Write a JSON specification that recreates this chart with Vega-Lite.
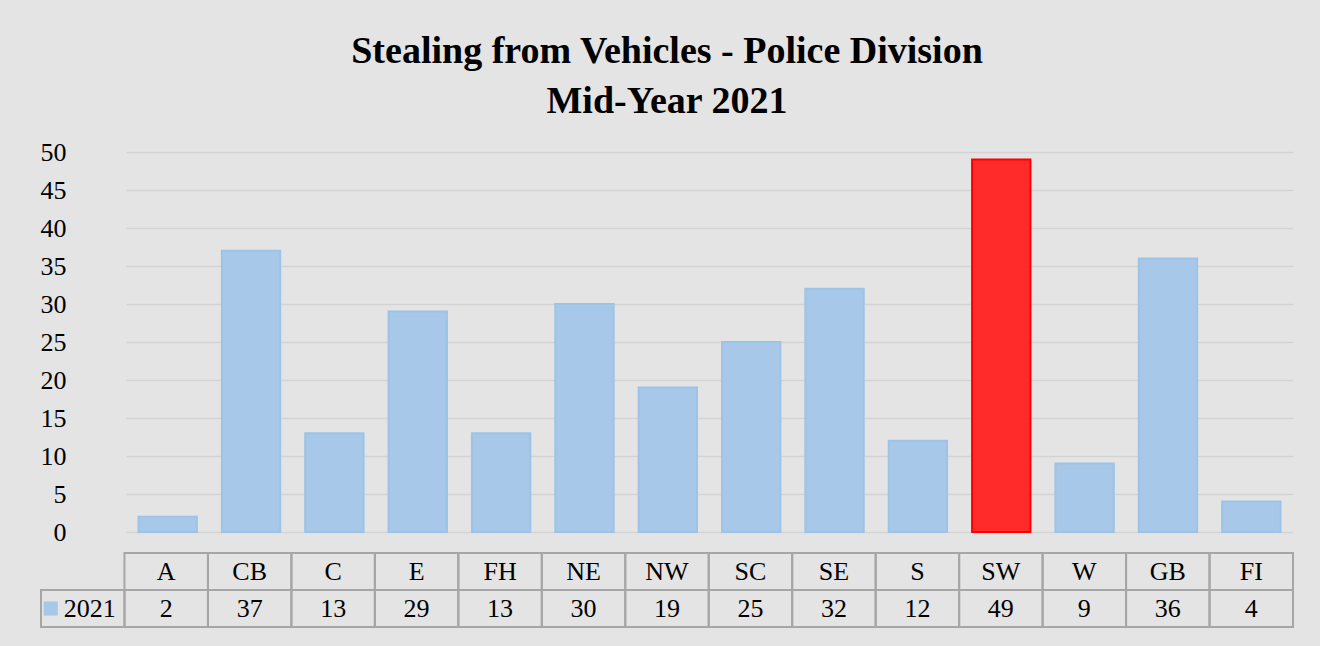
{
  "$schema": "https://vega.github.io/schema/vega-lite/v6.json",
  "background": "#e4e4e4",
  "padding": {"left": 40, "top": 33, "right": 28, "bottom": 20},
  "title": {
    "text": ["Stealing from Vehicles - Police Division", "Mid-Year 2021"],
    "font": "Liberation Serif",
    "fontSize": 38,
    "fontWeight": "bold",
    "color": "#000000",
    "anchor": "middle",
    "lineHeight": 50,
    "offset": 18
  },
  "config": {"view": {"stroke": null}, "font": "Liberation Serif"},
  "datasets": {
    "div": [
      {"division": "A", "count": 2},
      {"division": "CB", "count": 37},
      {"division": "C", "count": 13},
      {"division": "E", "count": 29},
      {"division": "FH", "count": 13},
      {"division": "NE", "count": 30},
      {"division": "NW", "count": 19},
      {"division": "SC", "count": 25},
      {"division": "SE", "count": 32},
      {"division": "S", "count": 12},
      {"division": "SW", "count": 49},
      {"division": "W", "count": 9},
      {"division": "GB", "count": 36},
      {"division": "FI", "count": 4}
    ],
    "series": [{"series": "2021"}]
  },
  "spacing": 7,
  "vconcat": [
    {
      "width": 1167,
      "height": 380,
      "data": {"name": "div"},
      "mark": {"type": "bar", "strokeWidth": 2},
      "encoding": {
        "x": {
          "field": "division",
          "type": "nominal",
          "sort": null,
          "scale": {"paddingInner": 0.3, "paddingOuter": 0.15},
          "axis": null
        },
        "y": {
          "field": "count",
          "type": "quantitative",
          "scale": {"domain": [0, 50]},
          "axis": {
            "values": [0, 5, 10, 15, 20, 25, 30, 35, 40, 45, 50],
            "title": null,
            "domain": false,
            "ticks": false,
            "labelPadding": 60,
            "minExtent": 85,
            "maxExtent": 85,
            "labelFont": "Liberation Serif",
            "labelFontSize": 26,
            "labelColor": "#000000",
            "gridColor": "#d3d3d3",
            "gridWidth": 1.5
          }
        },
        "color": {
          "condition": {"test": "datum.division === 'SW'", "value": "#ff2b2b"},
          "value": "#a7c8e8"
        },
        "stroke": {
          "condition": {"test": "datum.division === 'SW'", "value": "#ff0000"},
          "value": "#9dc3e6"
        }
      }
    },
    {
      "width": 1167,
      "height": 74,
      "layer": [
        {
          "data": {"name": "div"},
          "mark": {"type": "rect", "fill": "transparent", "stroke": "#a6a6a6", "strokeWidth": 2},
          "encoding": {
            "x": {"field": "division", "type": "nominal", "scale": {"domain": ["2021", "A", "CB", "C", "E", "FH", "NE", "NW", "SC", "SE", "S", "SW", "W", "GB", "FI"], "range": [-85, 1167], "paddingInner": 0, "paddingOuter": 0}, "axis": null},
            "y": {"datum": "Division", "type": "nominal", "scale": {"domain": ["Division", "Value"], "paddingInner": 0, "paddingOuter": 0}, "axis": null}
          }
        },
        {
          "data": {"name": "div"},
          "mark": {"type": "text", "fontSize": 26, "color": "#000000", "font": "Liberation Serif"},
          "encoding": {
            "x": {"field": "division", "type": "nominal", "axis": null},
            "y": {"datum": "Division", "type": "nominal", "axis": null},
            "text": {"field": "division"}
          }
        },
        {
          "data": {"name": "div"},
          "mark": {"type": "rect", "fill": "transparent", "stroke": "#a6a6a6", "strokeWidth": 2},
          "encoding": {
            "x": {"field": "division", "type": "nominal", "axis": null},
            "y": {"datum": "Value", "type": "nominal", "axis": null}
          }
        },
        {
          "data": {"name": "div"},
          "mark": {"type": "text", "fontSize": 26, "color": "#000000", "font": "Liberation Serif"},
          "encoding": {
            "x": {"field": "division", "type": "nominal", "axis": null},
            "y": {"datum": "Value", "type": "nominal", "axis": null},
            "text": {"field": "count"}
          }
        },
        {
          "data": {"name": "series"},
          "mark": {"type": "rect", "fill": "transparent", "stroke": "#a6a6a6", "strokeWidth": 2},
          "encoding": {
            "x": {"field": "series", "type": "nominal", "axis": null},
            "y": {"datum": "Value", "type": "nominal", "axis": null}
          }
        },
        {
          "data": {"name": "series"},
          "mark": {"type": "text", "fontSize": 26, "color": "#000000", "font": "Liberation Serif", "dx": 7},
          "encoding": {
            "x": {"field": "series", "type": "nominal", "axis": null},
            "y": {"datum": "Value", "type": "nominal", "axis": null},
            "text": {"field": "series"}
          }
        },
        {
          "data": {"name": "series"},
          "mark": {"type": "point", "shape": "square", "filled": true, "size": 200, "color": "#a7c8e8", "opacity": 1, "xOffset": -32},
          "encoding": {
            "x": {"field": "series", "type": "nominal", "axis": null},
            "y": {"datum": "Value", "type": "nominal", "axis": null}
          }
        }
      ]
    }
  ]
}
